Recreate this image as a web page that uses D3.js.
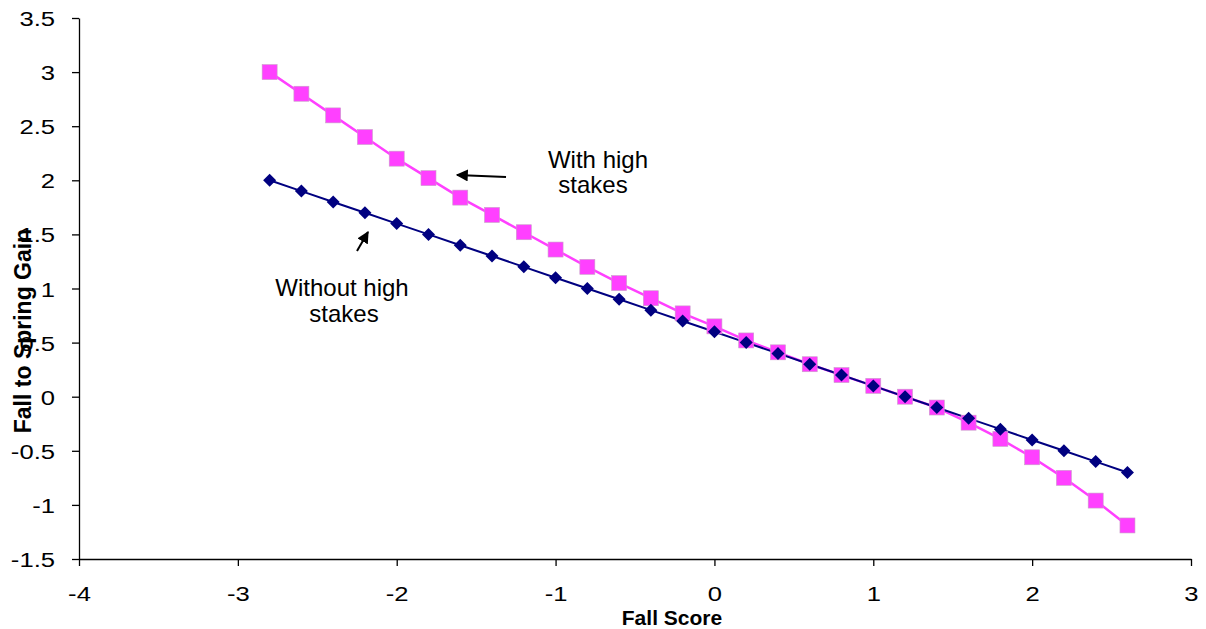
<!DOCTYPE html>
<html><head><meta charset="utf-8">
<script src="https://cdn.jsdelivr.net/npm/d3@7"></script>
<style>body{margin:0;background:#fff}svg{display:block}</style>
</head><body>
<svg id="c" width="1206" height="629"></svg>
<script>
const fallScores = [-2.8,-2.6,-2.4,-2.2,-2.0,-1.8,-1.6,-1.4,-1.2,-1.0,-0.8,-0.6,-0.4,-0.2,0,0.2,0.4,0.6,0.8,1.0,1.2,1.4,1.6,1.8,2.0,2.2,2.4,2.6];
const withoutHighStakes = [2.0,1.9,1.8,1.7,1.6,1.5,1.4,1.3,1.2,1.1,1.0,0.9,0.8,0.7,0.6,0.5,0.4,0.3,0.2,0.1,0.0,-0.1,-0.2,-0.3,-0.4,-0.5,-0.6,-0.7];
const withHighStakes = [3.0,2.8,2.6,2.4,2.2,2.02,1.84,1.68,1.52,1.36,1.2,1.05,0.91,0.77,0.65,0.52,0.41,0.3,0.2,0.1,0.0,-0.1,-0.24,-0.39,-0.56,-0.75,-0.96,-1.19];
const xTicks = [-4,-3,-2,-1,0,1,2,3];
const yTicks = [-1.5,-1,-0.5,0,0.5,1,1.5,2,2.5,3,3.5];

const svg = d3.select("#c");
const font = "'Liberation Sans', Arial, sans-serif";
const x = d3.scaleLinear().domain([-4,3]).range([79,1191]);
const y = d3.scaleLinear().domain([-1.5,3.5]).range([559,18]);
const fmt = d => d<0 ? "-"+Math.abs(d) : String(d);

const xAxis = svg.append("g").attr("transform","translate(0,559)")
  .call(d3.axisBottom(x).tickValues(xTicks).tickSize(7).tickSizeOuter(0).tickFormat(fmt));
const yAxis = svg.append("g").attr("transform","translate(79,0)")
  .call(d3.axisLeft(y).tickValues(yTicks).tickSize(7).tickSizeOuter(0).tickFormat(fmt));
[xAxis,yAxis].forEach(a=>{
  a.attr("font-size",null).attr("font-family",null);
  a.selectAll("text").attr("font-family",font).style("font-size","21px").attr("fill","#000").attr("dy",null);
  a.selectAll("line,path").attr("stroke","#000").attr("stroke-width",1.3);
});
xAxis.selectAll("text").attr("y",0).attr("x",0).attr("transform","translate(0,42) scale(1.22,1)");
yAxis.selectAll("text").attr("x",0).attr("transform","translate(-24,7.5) scale(1.22,1)");

const pts1 = fallScores.map((f,i)=>[f,withoutHighStakes[i]]);
const pts2 = fallScores.map((f,i)=>[f,withHighStakes[i]]);
const line = d3.line().x(d=>x(d[0])).y(d=>y(d[1]));

svg.append("path").attr("d",line(pts2)).attr("fill","none").attr("stroke","#FF40FF").attr("stroke-width",2.5);
svg.append("path").attr("d",line(pts1)).attr("fill","none").attr("stroke","#000080").attr("stroke-width",2);

svg.selectAll("rect.sq").data(pts2).enter().append("rect")
  .attr("x",d=>x(d[0])-7.5).attr("y",d=>y(d[1])-7.5).attr("width",15).attr("height",15)
  .attr("fill","#FF40FF").attr("stroke","#c8a0c8").attr("stroke-width",0.6);
svg.selectAll("path.dm").data(pts1).enter().append("path")
  .attr("d","M0,-6.5L6.5,0L0,6.5L-6.5,0Z")
  .attr("transform",d=>`translate(${x(d[0])},${y(d[1])})`)
  .attr("fill","#000080");

// annotations
const ann = svg.append("g").attr("font-family",font).attr("font-size",24).attr("fill","#000").attr("text-anchor","middle");
ann.append("text").attr("x",598).attr("y",168).text("With high");
ann.append("text").attr("x",593).attr("y",193).text("stakes");
ann.append("text").attr("x",342).attr("y",296).text("Without high");
ann.append("text").attr("x",344).attr("y",322).text("stakes");

svg.append("defs").append("marker").attr("id","ah").attr("viewBox","0 0 10 10").attr("refX",9).attr("refY",5)
  .attr("markerWidth",6).attr("markerHeight",6).attr("orient","auto")
  .append("path").attr("d","M0,0L10,5L0,10Z").attr("fill","#000");
svg.append("line").attr("x1",506).attr("y1",177).attr("x2",457).attr("y2",175).attr("stroke","#000").attr("stroke-width",2).attr("marker-end","url(#ah)");
svg.append("line").attr("x1",357).attr("y1",251).attr("x2",368).attr("y2",232).attr("stroke","#000").attr("stroke-width",2).attr("marker-end","url(#ah)");

// axis titles
svg.append("text").attr("x",672).attr("y",625).attr("text-anchor","middle").attr("font-family",font)
  .attr("font-weight","bold").attr("font-size",21).text("Fall Score");
svg.append("text").attr("transform","translate(31,331) rotate(-90)").attr("text-anchor","middle").attr("font-family",font)
  .attr("font-weight","bold").attr("font-size",23).text("Fall to Spring Gain");
</script>
</body></html>
